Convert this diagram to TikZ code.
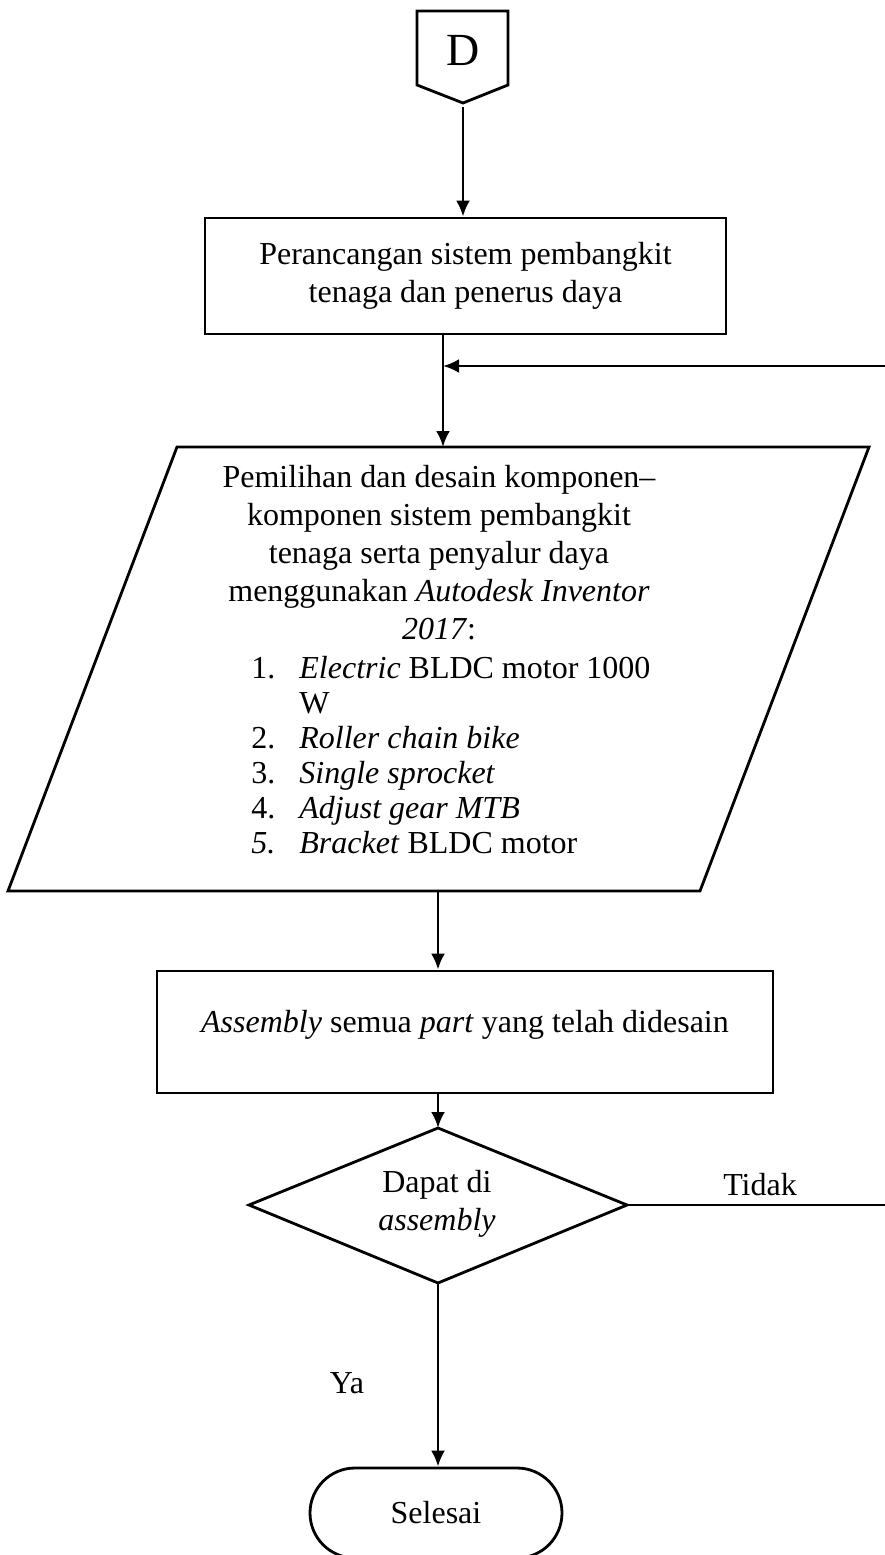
\documentclass[tikz,border=0pt]{standalone}
\usepackage{fontspec}
\setmainfont{Liberation Serif}
\usetikzlibrary{arrows.meta,shapes.geometric,shapes.misc,positioning}
\tikzset{>={Latex[length=16pt,width=14pt]}}
\tikzset{
  % text in the flow chart
  txt/.style={font=\fontsize{32}{38}\selectfont, inner sep=0pt, align=center},
  % plain process box
  procbox/.style={draw, rectangle, inner sep=0pt},
}
\begin{document}
\begin{tikzpicture}[x=1pt,y=-1pt,line width=2.8pt]
            \useasboundingbox (0,0) rectangle (885,1555);

            % off page connector
            \draw (417,11) -- (508,11) -- (508,85) -- (463,103) -- (417,85) -- cycle;
            \node[font=\fontsize{46}{50}\selectfont, inner sep=0pt] (D) at (463,50) {D};
            \coordinate (Dtip) at (463,107);

            \node[procbox, txt, minimum width=521pt, minimum height=116pt] (design) at (465.5,276) {Perancangan sistem pembangkit\\tenaga dan penerus daya};

            % input / output block
            \draw (177,447) -- (869,447) -- (700,891) -- (8,891) -- cycle;
            \coordinate (ptop) at (443,447);
            \coordinate (pbot) at (438,891);
            \coordinate (join) at (443,366);
            \node[txt] (choose) at (439,553) {Pemilihan dan desain komponen–\\komponen sistem pembangkit\\tenaga serta penyalur daya\\menggunakan \textit{Autodesk Inventor}\\\textit{2017}:};
            \node[txt, font=\fontsize{32}{35}\selectfont, anchor=base west] (parts) at (250,678) {\begin{tabular}[t]{@{}p{48pt}@{}l@{}}
                1. & \textit{Electric} BLDC motor 1000\\
                   & W\\
                2. & \textit{Roller chain bike}\\
                3. & \textit{Single sprocket}\\
                4. & \textit{Adjust gear MTB}\\
                \textit{5.} & \textit{Bracket} BLDC motor
              \end{tabular}};

            \node[procbox, minimum width=616pt, minimum height=122pt] (assemble) at (465,1032) {};
            \node[txt] (assembletext) at (465,1025) {\textit{Assembly} semua \textit{part} yang telah didesain};

            % decision
            \draw (438,1128) -- (627,1205) -- (438,1283) -- (249,1205) -- cycle;
            \coordinate (dtop) at (438,1128);
            \coordinate (dright) at (627,1205);
            \coordinate (dbot) at (438,1283);
            \node[txt] (check) at (437,1204) {Dapat di\\\textit{assembly}};
            \node[txt] (no) at (760,1185) {Tidak};
            \node[txt] (yes) at (347,1383) {Ya};

            \node[draw, rounded rectangle, txt, minimum width=252pt, minimum height=90pt] (finish) at (436,1513) {Selesai};

            \draw[->] (Dtip) -- (design.north -| Dtip);
            \draw[->] (join |- design.south) -- (ptop);
            \draw[->] (pbot) -- (assemble.north -| pbot);
            \draw[->] (assemble.south -| dtop) -- (dtop);
            \draw[->] (dbot) -- (finish.north -| dbot);
            \draw[->] (dright) -- ++(267,0) |- (join);
\end{tikzpicture}
\end{document}
